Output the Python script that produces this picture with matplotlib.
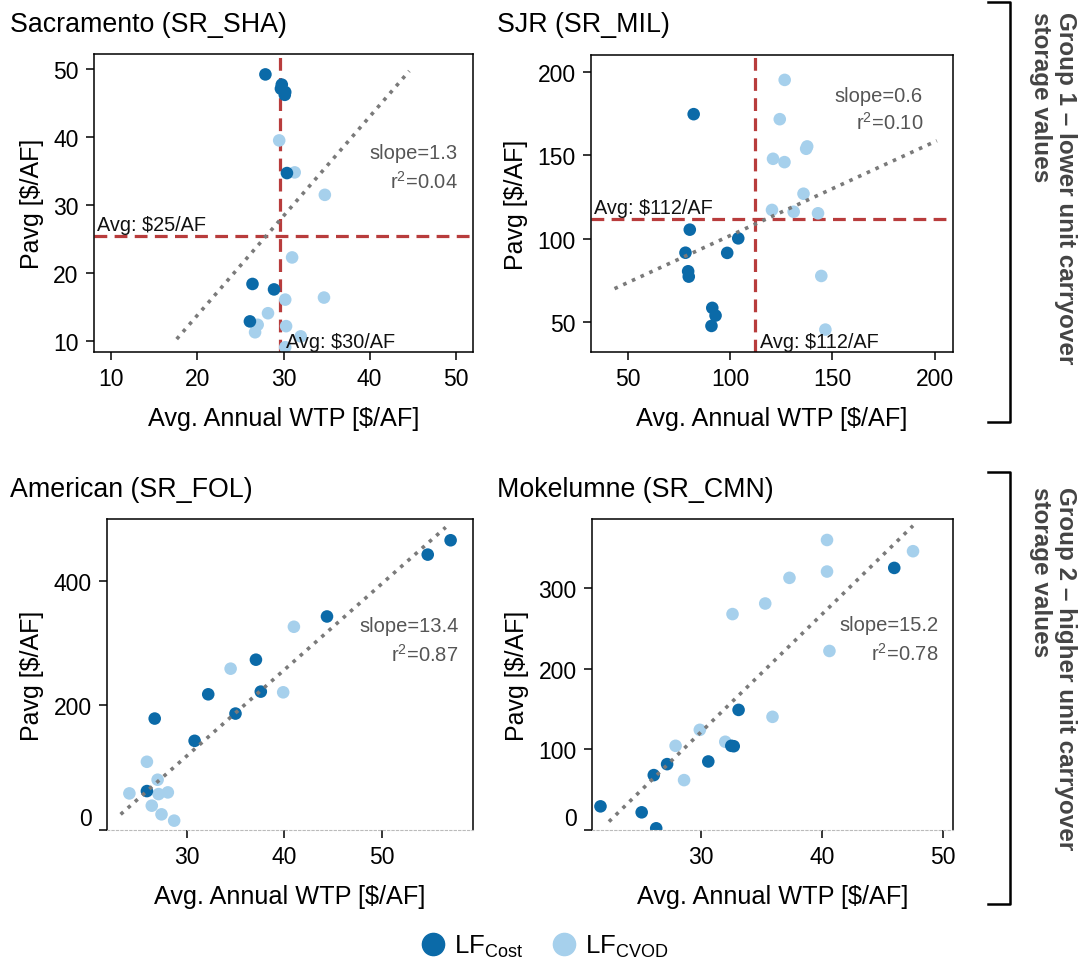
"""
Pavg vs. WTP promedio anual para cuatro embalses (2 grupos), LF_Cost vs LF_CVOD.
"""
import numpy as np
import matplotlib
matplotlib.use("Agg")
import matplotlib.pyplot as plt
from matplotlib.lines import Line2D
from matplotlib.transforms import ScaledTranslation

plt.rcParams['font.family'] = ['Liberation Sans', 'DejaVu Sans']
plt.rcParams['mathtext.fontset'] = 'custom'
plt.rcParams['mathtext.rm'] = 'Liberation Sans'
plt.rcParams['mathtext.it'] = 'Liberation Sans:italic'

DARK = '#0b6aa8'
LIGHT = '#a6d0ec'
RED = '#b83c3c'
GRAY = '#7a7a7a'

# --- Sacramento (SR_SHA) ---
sha_cost_x = [27.9, 29.8, 29.7, 30.2, 30.15, 30.4, 26.4, 28.9, 26.1]
sha_cost_y = [49.2, 47.7, 47.1, 46.6, 46.2, 34.7, 18.4, 17.6, 12.9]
sha_cvod_x = [29.5, 31.3, 34.8, 31.0, 30.2, 34.7, 28.2, 27.0, 26.7, 30.3, 32.0, 30.2]
sha_cvod_y = [39.5, 34.8, 31.5, 22.3, 16.1, 16.4, 14.1, 12.4, 11.3, 12.2, 10.7, 9.1]
sha_trend_x = [17.6, 44.6]
sha_trend_y = [10.3, 49.7]

# --- SJR (SR_MIL) ---
mil_cost_x = [82.2, 80.3, 78.2, 79.5, 79.8, 98.6, 104.0, 91.3, 92.9, 90.9]
mil_cost_y = [174.5, 105.4, 91.6, 80.5, 77.3, 91.5, 100.2, 58.6, 54.0, 47.8]
mil_cvod_x = [126.7, 124.3, 137.7, 137.2, 121.0, 126.6, 135.9, 120.5, 131.1, 143.0, 144.6, 146.6]
mil_cvod_y = [195.0, 171.5, 155.2, 153.8, 147.8, 145.8, 126.9, 117.2, 116.1, 115.2, 77.7, 45.6]
mil_trend_x = [43.5, 201.1]
mil_trend_y = [70.1, 158.6]

# --- American (SR_FOL) ---
fol_cost_x = [57.1, 54.75, 44.4, 37.1, 32.2, 37.6, 35.0, 26.7, 30.8, 25.9]
fol_cost_y = [464.6, 441.6, 342.4, 273.1, 217.6, 221.9, 186.7, 178.7, 143.0, 62.4]
fol_cvod_x = [41.0, 34.5, 39.9, 25.9, 27.0, 24.1, 27.1, 28.05, 26.4, 27.4, 28.7]
fol_cvod_y = [325.9, 258.7, 220.8, 109.4, 80.6, 58.7, 57.6, 60.3, 39.0, 25.1, 15.0]
fol_trend_x = [23.2, 56.6]
fol_trend_y = [25.1, 485.4]

# --- Mokelumne (SR_CMN) ---
cmn_cost_x = [21.7, 25.1, 26.3, 26.1, 27.2, 30.6, 32.5, 32.7, 33.1, 45.95]
cmn_cost_y = [29.3, 21.9, 2.1, 68.0, 81.6, 84.9, 104.3, 103.8, 148.8, 324.7]
cmn_cvod_x = [40.4, 47.5, 40.4, 37.3, 35.3, 32.6, 40.6, 35.9, 29.9, 27.9, 32.0, 28.6]
cmn_cvod_y = [359.3, 345.4, 320.2, 312.4, 280.6, 267.5, 221.8, 140.2, 124.1, 104.3, 109.3, 61.8]
cmn_trend_x = [22.4, 47.5]
cmn_trend_y = [10.4, 377.0]

titles = ["Sacramento (SR_SHA)", "SJR (SR_MIL)", "American (SR_FOL)", "Mokelumne (SR_CMN)"]
slopes = ["1.3", "0.6", "13.4", "15.2"]
r2s = ["0.04", "0.10", "0.87", "0.78"]
avg_x = [29.6, 112]   # promedio WTP (solo grupo 1)
avg_y = [25.4, 112]   # promedio Pavg
avg_x_labels = ["Avg: \\$30/AF", "Avg: \\$112/AF"]
avg_y_labels = ["Avg: \\$25/AF", "Avg: \\$112/AF"]

xticks = [[10, 20, 30, 40, 50], [50, 100, 150, 200], [30, 40, 50], [30, 40, 50]]
yticks = [[10, 20, 30, 40, 50], [50, 100, 150, 200], [0, 200, 400], [0, 100, 200, 300]]
xlims = [(8, 52), (32, 209), (21.8, 59.4), (21.0, 50.8)]
ylims = [(8.4, 52.2), (32.2, 209.9), (0, 498.7), (0, 385.3)]

datos = [
    (sha_cost_x, sha_cost_y, sha_cvod_x, sha_cvod_y, sha_trend_x, sha_trend_y),
    (mil_cost_x, mil_cost_y, mil_cvod_x, mil_cvod_y, mil_trend_x, mil_trend_y),
    (fol_cost_x, fol_cost_y, fol_cvod_x, fol_cvod_y, fol_trend_x, fol_trend_y),
    (cmn_cost_x, cmn_cost_y, cmn_cvod_x, cmn_cvod_y, cmn_trend_x, cmn_trend_y),
]

W, H = 1086, 970
fig = plt.figure(figsize=(W / 100, H / 100), dpi=100)

# posiciones en píxeles (izq, der, arriba, abajo)
cajas = [(94, 473, 55, 353), (591, 953, 56, 353), (107, 473, 520, 831), (592, 953, 520, 831)]
pos_titulo = [(10, 25), (497, 25), (10, 490), (497, 490)]
pos_texto = [(0.960, 0.671, 0.574), (0.917, 0.865, 0.774), (0.960, 0.656, 0.566), (0.959, 0.662, 0.569)]

for i, (l, r, t, b) in enumerate(cajas):
    ax = fig.add_axes([l / W, 1 - b / H, (r - l) / W, (b - t) / H])
    cx, cy, vx, vy, tx, ty = datos[i]

    ax.scatter(cx, cy, s=82, color=DARK, edgecolor='none', zorder=2.5)
    ax.scatter(vx, vy, s=82, color=LIGHT, edgecolor='none', zorder=2)
    ax.plot(tx, ty, linestyle=':', color=GRAY, lw=2.6, zorder=3)

    if i < 2:
        ax.axvline(avg_x[i], color=RED, lw=2.3, linestyle=(0, (4, 2.3)), zorder=1.5)
        ax.axhline(avg_y[i], color=RED, lw=2.3, linestyle=(0, (4, 2.3)), zorder=1.5)
        ax.annotate(avg_y_labels[i], xy=(0, avg_y[i]), xycoords=('axes fraction', 'data'),
                    xytext=(2, 1.5), textcoords='offset points', ha='left', va='bottom',
                    fontsize=14.3, color='#111111', zorder=4)
        ax.annotate(avg_x_labels[i], xy=(avg_x[i], 0), xycoords=('data', 'axes fraction'),
                    xytext=(4, 1), textcoords='offset points', ha='left', va='bottom',
                    fontsize=14.3, color='#111111', zorder=4)

    px, py1, py2 = pos_texto[i]
    ax.text(px, py1, f"slope={slopes[i]}", transform=ax.transAxes, ha='right', va='center',
            fontsize=14.5, color='#555555')
    ax.text(px, py2, f"r$^2$={r2s[i]}", transform=ax.transAxes, ha='right', va='center',
            fontsize=14.5, color='#555555')

    ax.set_xlim(*xlims[i])
    ax.set_ylim(*ylims[i])
    ax.set_xticks(xticks[i])
    ax.set_yticks(yticks[i])
    ax.tick_params(direction='out', length=6, width=1.1, labelsize=16.5, pad=5)
    for sp in ax.spines.values():
        sp.set_linewidth(1.1)
    if i >= 2:
        ax.spines['bottom'].set_linestyle((0, (2, 2)))
        ax.spines['bottom'].set_color('#bbbbbb')
        ax.spines['bottom'].set_linewidth(0.8)
        # la etiqueta "0" va algo más arriba en el original
        t0 = ax.yaxis.get_major_ticks()[0]
        t0.label1.set_transform(t0.label1.get_transform() + ScaledTranslation(0, 14 / 100, fig.dpi_scale_trans))

    ax.set_xlabel("Avg. Annual WTP [\\$/AF]", fontsize=18.2, labelpad=11)
    ax.set_ylabel("Pavg [\\$/AF]", fontsize=18, labelpad=7)

    tx0, ty0 = pos_titulo[i]
    fig.text(tx0 / W, 1 - ty0 / H, titles[i], ha='left', va='center', fontsize=19.3)

# corchetes de grupo a la derecha
for (y0, y1) in [(3, 423), (473, 905)]:
    fig.add_artist(Line2D([988 / W, 1010 / W, 1010 / W, 988 / W],
                          [1 - y0 / H, 1 - y0 / H, 1 - y1 / H, 1 - y1 / H],
                          color='black', lw=1.8, solid_joinstyle='round'))

fig.text(1053 / W, 1 - 12 / H, "Group 1 – lower unit carryover\nstorage values", rotation=-90,
         ha='center', va='top', multialignment='left', fontsize=17.5, fontweight='bold',
         color='#444444', linespacing=1.15)
fig.text(1053 / W, 1 - 487 / H, "Group 2 – higher unit carryover\nstorage values", rotation=-90,
         ha='center', va='top', multialignment='left', fontsize=17.5, fontweight='bold',
         color='#444444', linespacing=1.15)

handles = [Line2D([], [], marker='o', linestyle='none', markersize=16, color=DARK),
           Line2D([], [], marker='o', linestyle='none', markersize=16, color=LIGHT)]
fig.legend(handles, ["LF$_{\\mathrm{Cost}}$", "LF$_{\\mathrm{CVOD}}$"], loc='center',
           bbox_to_anchor=(0.5, 1 - 947 / H), ncol=2, frameon=False, fontsize=18.5,
           handletextpad=0.2, columnspacing=1.0, handlelength=1.2)

fig.savefig("out.png", dpi=100)
